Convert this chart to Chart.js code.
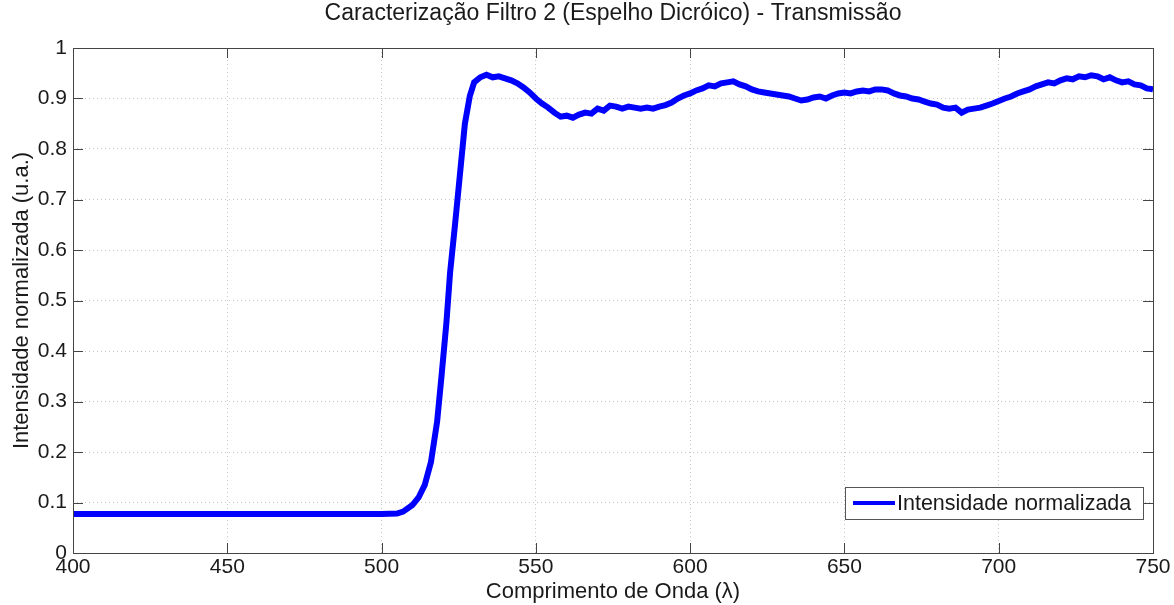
<!DOCTYPE html>
<html>
<head>
<meta charset="utf-8">
<script src="https://cdn.jsdelivr.net/npm/chart.js@4/dist/chart.umd.min.js"></script>
<style>
  html, body { margin: 0; padding: 0; background: #fff; }
  #wrap { width: 1174px; height: 605px; }
</style>
</head>
<body>
<div id="wrap"><canvas id="chart" width="1174" height="605"></canvas></div>
<script>
const chartTitle = "Caracterização Filtro 2 (Espelho Dicróico) - Transmissão";
const xTitle = "Comprimento de Onda (λ)";
const yTitle = "Intensidade normalizada (u.a.)";
const seriesName = "Intensidade normalizada";

// comprimento de onda (nm)
const wavelengths = [
  400, 450, 500, 505, 507, 510, 512, 514, 516, 518, 519.5, 521, 522.2, 523.8, 525.4, 527, 528.6, 530,
  532, 534, 536, 538, 540, 542, 544, 546, 548, 550, 552, 554, 556, 558, 560, 562, 564, 566, 568, 570,
  572, 574, 576, 578, 580, 582, 584, 586, 588, 590, 592, 594, 596, 598, 600, 602, 604, 606, 608, 610,
  612, 614, 616, 618, 620, 622, 624, 626, 628, 630, 632, 634, 636, 638, 640, 642, 644, 646, 648, 650,
  652, 654, 656, 658, 660, 662, 664, 666, 668, 670, 672, 674, 676, 678, 680, 682, 684, 686, 688, 690,
  692, 694, 696, 698, 700, 702, 704, 706, 708, 710, 712, 714, 716, 718, 720, 722, 724, 726, 728, 730,
  732, 734, 736, 738, 740, 742, 744, 746, 748, 750
];

// intensidade normalizada
const intensity = [
  0.077, 0.077, 0.077, 0.078, 0.082, 0.095, 0.11, 0.135, 0.18, 0.26, 0.355, 0.455, 0.555, 0.65, 0.75, 0.85, 0.905, 0.932,
  0.942, 0.947, 0.942, 0.944, 0.940, 0.936, 0.930, 0.922, 0.912, 0.900, 0.890, 0.882, 0.872, 0.864, 0.866, 0.862, 0.868, 0.872, 0.870, 0.880,
  0.876, 0.886, 0.884, 0.880, 0.884, 0.882, 0.880, 0.882, 0.880, 0.884, 0.887, 0.892, 0.900, 0.906, 0.910, 0.916, 0.920, 0.926, 0.924, 0.930,
  0.932, 0.934, 0.928, 0.924, 0.918, 0.914, 0.912, 0.910, 0.908, 0.906, 0.904, 0.900, 0.896, 0.898, 0.902, 0.904, 0.900, 0.906, 0.910, 0.912,
  0.910, 0.914, 0.916, 0.914, 0.918, 0.918, 0.916, 0.910, 0.906, 0.904, 0.900, 0.898, 0.894, 0.890, 0.888, 0.882, 0.880, 0.882, 0.872, 0.878,
  0.880, 0.882, 0.886, 0.890, 0.895, 0.900, 0.904, 0.910, 0.914, 0.918, 0.924, 0.928, 0.932, 0.930, 0.936, 0.940, 0.938, 0.944, 0.942, 0.946,
  0.944, 0.938, 0.942, 0.936, 0.932, 0.934, 0.928, 0.926, 0.920, 0.918
];

const xTicks = [400, 450, 500, 550, 600, 650, 700, 750];
const yTicks = [0, 0.1, 0.2, 0.3, 0.4, 0.5, 0.6, 0.7, 0.8, 0.9, 1];

const FONT = "'Liberation Sans', Arial, sans-serif";
const points = wavelengths.map((w, i) => ({ x: w, y: intensity[i] }));

// caixa estilo matlab + ticks para dentro + titulo centrado nos eixos + legenda no canto
const matlabBox = {
  id: "matlabBox",
  afterDraw(chart) {
    const { ctx, chartArea: a, scales } = chart;
    ctx.save();
    ctx.strokeStyle = "#444";
    ctx.lineWidth = 1;
    ctx.strokeRect(a.left + 0.5, a.top + 0.5, a.right - a.left, a.bottom - a.top);
    ctx.beginPath();
    xTicks.forEach(v => {
      const px = Math.round(scales.x.getPixelForValue(v)) + 0.5;
      ctx.moveTo(px, a.bottom); ctx.lineTo(px, a.bottom - 10);
      ctx.moveTo(px, a.top); ctx.lineTo(px, a.top + 10);
    });
    yTicks.forEach(v => {
      const py = Math.round(scales.y.getPixelForValue(v)) + 0.5;
      ctx.moveTo(a.left, py); ctx.lineTo(a.left + 10, py);
      ctx.moveTo(a.right, py); ctx.lineTo(a.right - 10, py);
    });
    ctx.stroke();

    // titulo
    ctx.fillStyle = "#1a1a1a";
    ctx.font = "23px " + FONT;
    ctx.textAlign = "center";
    ctx.textBaseline = "middle";
    ctx.fillText(chartTitle, (a.left + a.right) / 2, 14);

    // legenda
    const bx = 845, by = 487, bw = 298, bh = 32;
    ctx.fillStyle = "#fff";
    ctx.fillRect(bx, by, bw, bh);
    ctx.lineWidth = 1;
    ctx.strokeStyle = "#555";
    ctx.strokeRect(bx + 0.5, by + 0.5, bw, bh);
    ctx.strokeStyle = "#0000ff";
    ctx.lineWidth = 4;
    ctx.beginPath();
    ctx.moveTo(bx + 8, by + 16); ctx.lineTo(bx + 50, by + 16);
    ctx.stroke();
    ctx.fillStyle = "#1a1a1a";
    ctx.font = "21.5px " + FONT;
    ctx.textAlign = "left";
    ctx.fillText(seriesName, bx + 52, by + 17);
    ctx.restore();
  }
};

new Chart(document.getElementById("chart"), {
  type: "line",
  data: {
    datasets: [{
      label: seriesName,
      data: points,
      borderColor: "#0000ff",
      borderWidth: 6,
      pointRadius: 0,
      tension: 0
    }]
  },
  options: {
    responsive: false,
    animation: false,
    layout: { padding: { left: 0, right: 21, top: 48, bottom: 0 } },
    plugins: {
      legend: { display: false },
      tooltip: { enabled: false },
      title: { display: false }
    },
    scales: {
      x: {
        type: "linear",
        min: 400, max: 750,
        afterBuildTicks: s => { s.ticks = xTicks.map(v => ({ value: v })); },
        afterFit: s => { s.height = 52; },
        grid: { color: "#c8c8c8", drawTicks: false, lineWidth: 1 },
        border: { display: false, dash: [1, 3] },
        ticks: { color: "#1a1a1a", padding: 2, font: { family: FONT, size: 21 }, maxRotation: 0 },
        title: { display: true, text: xTitle, color: "#1a1a1a", font: { family: FONT, size: 22 }, padding: { top: 0, bottom: 0 } }
      },
      y: {
        min: 0, max: 1,
        afterBuildTicks: s => { s.ticks = yTicks.map(v => ({ value: v })); },
        afterFit: s => { s.width = 73; },
        grid: { color: "#c8c8c8", drawTicks: false, lineWidth: 1 },
        border: { display: false, dash: [1, 3] },
        ticks: {
          color: "#1a1a1a", padding: 6, font: { family: FONT, size: 21 },
          callback: v => String(Math.round(v * 10) / 10)
        },
        title: { display: true, text: yTitle, color: "#1a1a1a", font: { family: FONT, size: 22 }, padding: { top: 9, bottom: 0 } }
      }
    }
  },
  plugins: [matlabBox]
});
</script>
</body>
</html>
